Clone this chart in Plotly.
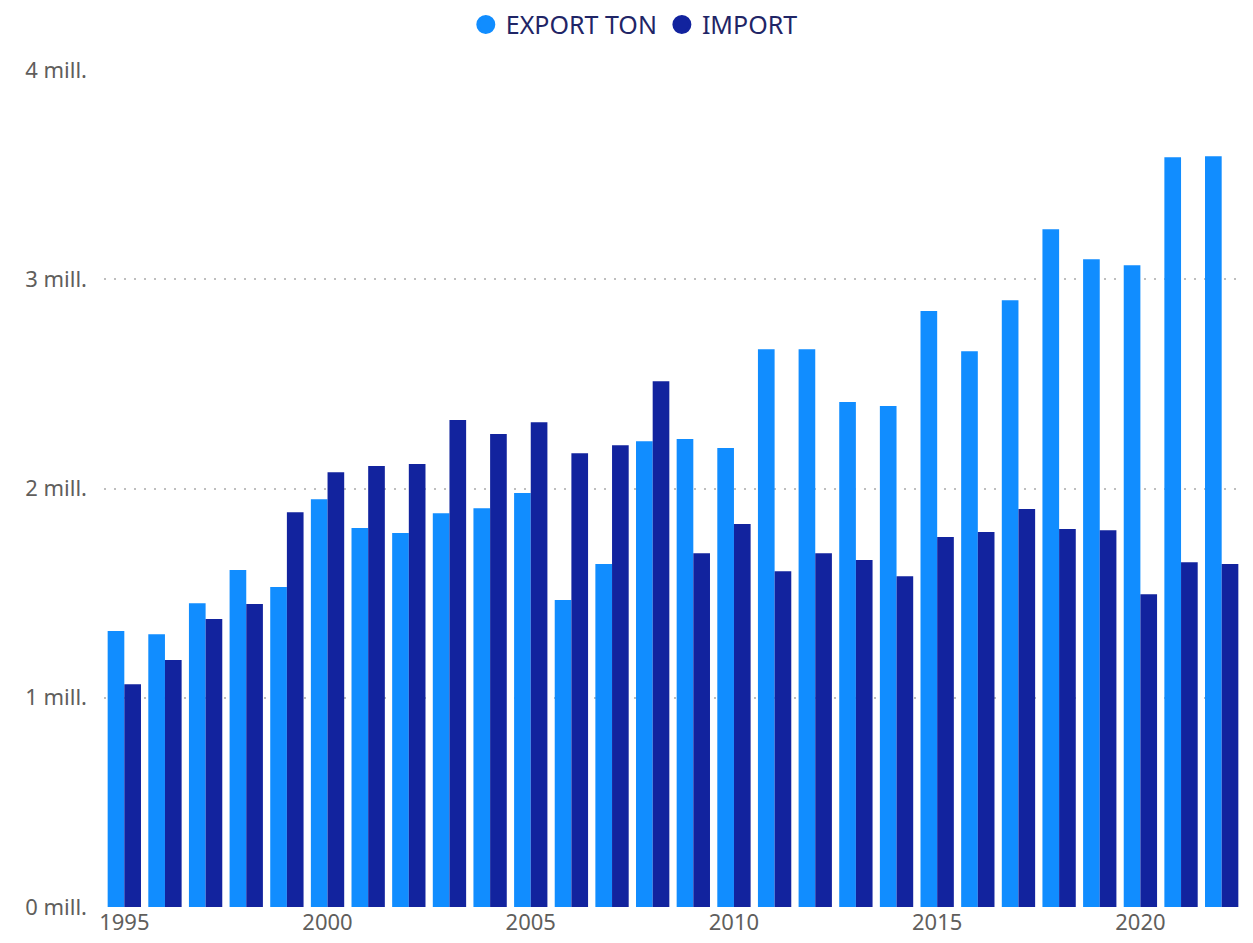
import plotly.graph_objects as go

years = list(range(1995, 2023))
export_ton = [1.319, 1.304, 1.452, 1.610, 1.529, 1.949, 1.811, 1.787, 1.882, 1.906,
              1.978, 1.467, 1.639, 2.226, 2.236, 2.193, 2.666, 2.666, 2.413, 2.394,
              2.848, 2.656, 2.900, 3.239, 3.096, 3.067, 3.583, 3.588]
import_ton = [1.065, 1.180, 1.376, 1.448, 1.887, 2.078, 2.107, 2.117, 2.327, 2.260,
              2.317, 2.169, 2.207, 2.513, 1.691, 1.830, 1.605, 1.691, 1.658, 1.581,
              1.768, 1.792, 1.902, 1.806, 1.801, 1.495, 1.648, 1.639]
export_vals = [v * 1e6 for v in export_ton]
import_vals = [v * 1e6 for v in import_ton]

y_tickvals = [0, 1e6, 2e6, 3e6, 4e6]
y_ticktext = ["0 mill.", "1 mill.", "2 mill.", "3 mill.", "4 mill."]
x_tickvals = [1995, 2000, 2005, 2010, 2015, 2020]

c_exp = "#118DFF"
c_imp = "#12239E"
font_family = "Noto Sans, Open Sans, DejaVu Sans, sans-serif"

fig = go.Figure()
fig.add_trace(go.Bar(x=years, y=export_vals, name="EXPORT TON", marker_color=c_exp,
                     marker_line_width=0, showlegend=False))
fig.add_trace(go.Bar(x=years, y=import_vals, name="IMPORT", marker_color=c_imp,
                     marker_line_width=0, showlegend=False))
# legend entries with circle markers
fig.add_trace(go.Scatter(x=[None], y=[None], mode="markers", name="EXPORT TON",
                         marker=dict(color=c_exp, size=16, symbol="circle",
                                     line=dict(color=c_exp, width=3))))
fig.add_trace(go.Scatter(x=[None], y=[None], mode="markers", name="IMPORT",
                         marker=dict(color=c_imp, size=16, symbol="circle",
                                     line=dict(color=c_imp, width=3))))

fig.update_layout(
    width=1237, height=927,
    margin=dict(l=96, r=3, t=62, b=28, autoexpand=False),
    paper_bgcolor="white", plot_bgcolor="white",
    barmode="group", bargap=0.18, bargroupgap=0,
    font=dict(family=font_family, color="#605E5C", size=22),
    legend=dict(orientation="h", x=0.466, xanchor="center", y=1.054,
                yanchor="middle", font=dict(size=25, color="#1F2566"),
                itemwidth=30, tracegroupgap=0, itemsizing="trace"),
    xaxis=dict(range=[1994.5, 2022.5], tickmode="array", tickvals=x_tickvals,
               showgrid=False, zeroline=False, showline=False, ticks="",
               automargin=False, tickfont=dict(size=22, color="#605E5C")),
    yaxis=dict(range=[0, 4e6], tickmode="array", tickvals=y_tickvals, ticktext=y_ticktext,
               showgrid=True, gridcolor="#BEBEBE", griddash="2px,8px", gridwidth=1.5,
               zeroline=False, showline=False, ticks="", ticklabelstandoff=16,
               automargin=False, tickfont=dict(size=22, color="#605E5C")),
)

fig.write_html("out.html")
